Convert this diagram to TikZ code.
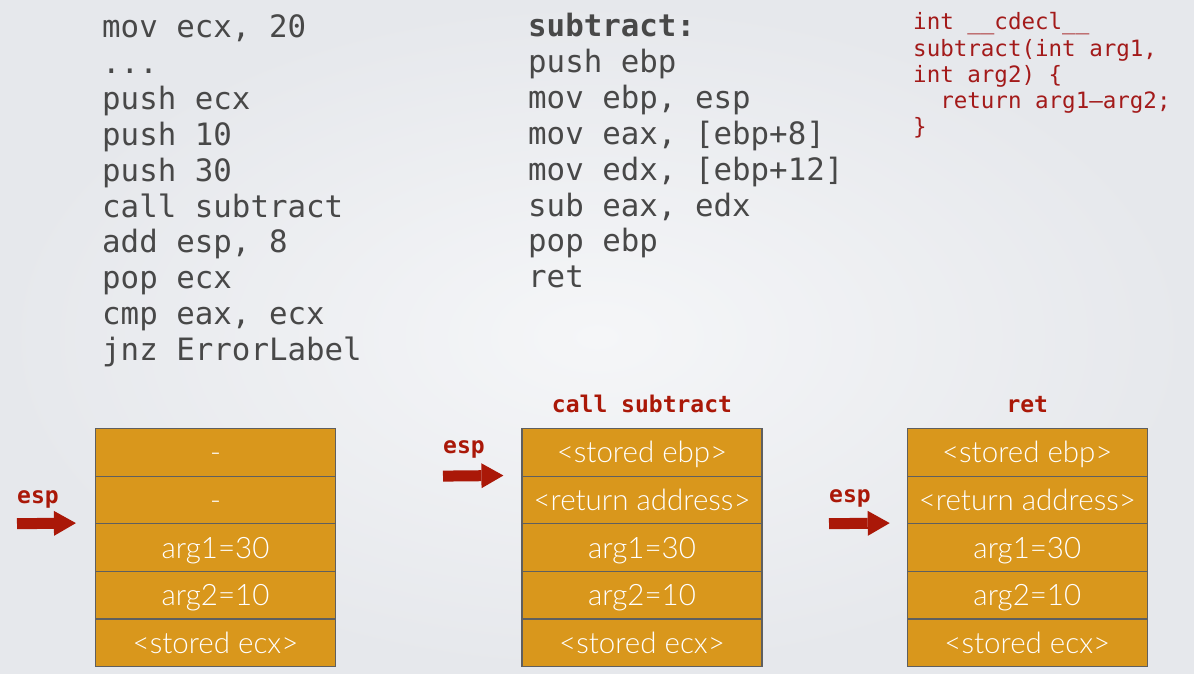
\documentclass[tikz,border=0pt]{standalone}
\usepackage{fontspec}
\setmainfont{Lato}
\newfontfamily\cellfont{Lato Light}
\newfontfamily\codefont{DejaVu Sans Mono}
\usetikzlibrary{arrows.meta}
\definecolor{bgc}{RGB}{230,232,236}
\definecolor{bgin}{RGB}{245,246,248}
\definecolor{codegray}{RGB}{72,72,72}
\definecolor{codered}{RGB}{163,26,26}
\definecolor{esred}{RGB}{170,24,8}
\definecolor{gold}{RGB}{217,151,28}
\definecolor{cellline}{RGB}{95,95,95}
\begin{document}
\begin{tikzpicture}[x=1pt,y=-1pt,
 code/.style={anchor=base west, inner sep=0pt, font=\codefont\fontsize{30.8}{36}\selectfont, text=codegray},
 ccode/.style={anchor=base west, inner sep=0pt, font=\codefont\fontsize{22.5}{26}\selectfont, text=codered},
 lbl/.style={inner sep=0pt, font=\codefont\bfseries\fontsize{23}{26}\selectfont, text=esred},
 cell/.style={draw=cellline, line width=1.2pt, fill=gold, minimum width=240pt, minimum height=47.6pt, inner sep=0pt, text height=21pt, text depth=0pt, text=white, font=\cellfont\fontsize{29.5}{30}\selectfont},
 esparrow/.style={draw=esred, line width=11pt, -{Triangle[width=25pt,length=22pt,line width=0pt]}}
]
\shade[inner color=bgin, outer color=bgc, use as bounding box] (0,0) rectangle (1194,674);

% left code
\foreach \t [count=\i from 0] in {{mov ecx, 20},{.{}.{}.},{push ecx},{push 10},{push 30},{call subtract},{add esp, 8},{pop ecx},{cmp eax, ecx},{jnz ErrorLabel}}
  \node[code] (la\i) at (102,{38+35.8*\i}) {\t};

% middle code
\foreach \t [count=\i from 0] in {{\textbf{subtract:}},{push ebp},{mov ebp, esp},{mov eax, [ebp+8]},{mov edx, [ebp+12]},{sub eax, edx},{pop ebp},{ret}}
  \node[code] (mb\i) at (528,{37+35.8*\i}) {\t};

% C code
\foreach \t [count=\i from 0] in {{int \_\_cdecl\_\_},{subtract(int arg1,},{int arg2) \{},{\phantom{xx}return arg1–arg2;},{\}}}
  \node[ccode] (rc\i) at (913,{30+26.1*\i}) {\t};

% stacks
\foreach \s/\x/\ta/\tb in {1/215.5/-/-, 2/642/{<stored ebp>}/{<return address>}, 3/1027.3/{<stored ebp>}/{<return address>}} {
  \node[cell] (s\s a) at (\x,452.3) {\ta};
  \node[cell] (s\s b) at (\x,499.9) {\tb};
  \node[cell] (s\s c) at (\x,547.5) {arg1=30};
  \node[cell] (s\s d) at (\x,595.1) {arg2=10};
  \node[cell] (s\s e) at (\x,642.7) {<stored ecx>};
}

% titles
\node[lbl, anchor=base] (t2) at (642,412) {call subtract};
\node[lbl, anchor=base] (t3) at (1027.3,412) {ret};

% esp labels and arrows
\node[lbl, anchor=base west] (e1) at (17,503) {esp};
\coordinate (a1) at (17,523.7);
\draw[esparrow] (a1) -- ([xshift=-19pt]s1c.north west);

\node[lbl, anchor=base west] (e2) at (443,453) {esp};
\coordinate (a2) at (443,476.1);
\draw[esparrow] (a2) -- ([xshift=-18pt]s2b.north west);

\node[lbl, anchor=base west] (e3) at (829,502) {esp};
\coordinate (a3) at (829,523.7);
\draw[esparrow] (a3) -- ([xshift=-17pt]s3c.north west);
\end{tikzpicture}
\end{document}
